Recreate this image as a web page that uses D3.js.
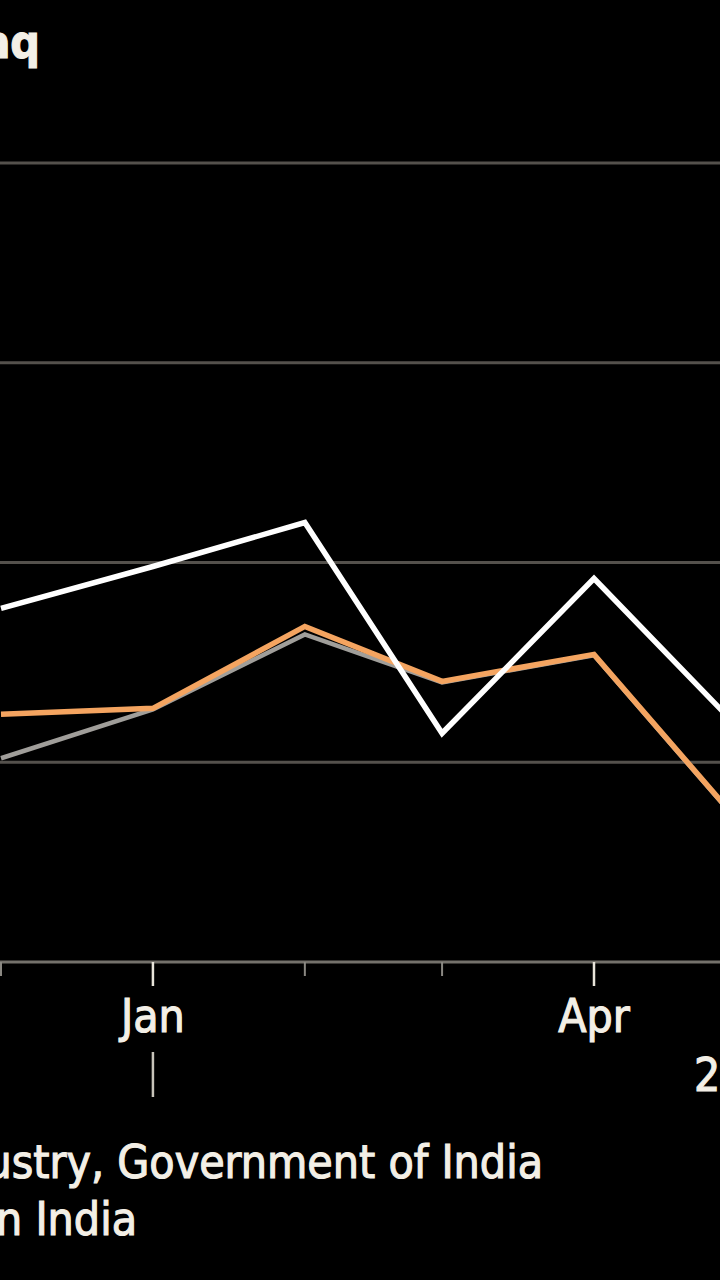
<!DOCTYPE html>
<html><head><meta charset="utf-8">
<script src="https://cdn.jsdelivr.net/npm/d3@7"></script>
<style>
html,body{margin:0;padding:0;background:#000;}
svg{display:block;}
text{font-family:"DejaVu Sans Condensed","Liberation Sans Narrow","DejaVu Sans",sans-serif;fill:#f3efe6;stroke:#f3efe6;stroke-width:1.1px;}
</style></head>
<body>
<script>
// Data (monthly, start of month)
const months = ["2018-12-01","2019-01-01","2019-02-01","2019-03-01","2019-04-01","2019-05-01"];
const whiteSeries  = [1.77, 1.98, 2.20, 1.145, 1.92, 1.16];
const orangeSeries = [1.24, 1.27, 1.68, 1.405, 1.54, 0.69];
const graySeries   = [1.02, 1.265, 1.64, 1.40, 1.535, 0.685];
const gridValues = [1, 2, 3, 4];
const majorTicks = ["2019-01-01","2019-04-01"];
const minorTicks = ["2018-12-01","2019-02-01","2019-03-01"];
const yearLabel = "2019";
const titleText = "Iraq";
const sourceLine1 = "Industry, Government of India";
const sourceLine2 = "in India";

const W = 720, H = 1280;
const parse = d3.timeParse("%Y-%m-%d");
const svg = d3.select("body").append("svg").attr("width", W).attr("height", H);
svg.append("rect").attr("width", W).attr("height", H).attr("fill", "#000");

const x = d3.scaleTime()
  .domain([parse("2018-12-01"), parse("2019-04-01")])
  .range([1, 594]);
const y = d3.scaleLinear().domain([0, 4]).range([962, 163]);

// gridlines
svg.append("g").selectAll("line").data(gridValues).join("line")
  .attr("x1", 0).attr("x2", W)
  .attr("y1", d => y(d)).attr("y2", d => y(d))
  .attr("stroke", "#54514c").attr("stroke-width", 3);

// axis baseline
svg.append("line").attr("x1", 0).attr("x2", W).attr("y1", y(0)).attr("y2", y(0))
  .attr("stroke", "#74716b").attr("stroke-width", 3);

// ticks
svg.append("g").selectAll("line").data(minorTicks.map(parse)).join("line")
  .attr("x1", d => x(d)).attr("x2", d => x(d))
  .attr("y1", y(0)).attr("y2", y(0) + 14)
  .attr("stroke", "#8a8882").attr("stroke-width", 2);
svg.append("g").selectAll("line").data(majorTicks.map(parse)).join("line")
  .attr("x1", d => x(d)).attr("x2", d => x(d))
  .attr("y1", y(0)).attr("y2", y(0) + 24)
  .attr("stroke", "#e8e4da").attr("stroke-width", 2.5);

// tick labels
svg.append("g").selectAll("text").data(majorTicks.map(parse)).join("text")
  .attr("x", d => x(d)).attr("y", 1032)
  .attr("text-anchor", "middle")
  .attr("font-size", 46)
  .text(d3.timeFormat("%b"));

// year separator & label
svg.append("line").attr("x1", x(parse("2019-01-01"))).attr("x2", x(parse("2019-01-01")))
  .attr("y1", 1052).attr("y2", 1097).attr("stroke", "#c8c4ba").attr("stroke-width", 2.5);
svg.append("text").attr("x", 694).attr("y", 1091).attr("font-size", 46).text(yearLabel);

// lines
const line = d3.line().x((d, i) => x(parse(months[i]))).y(d => y(d));
svg.append("path").datum(graySeries).attr("d", line)
  .attr("fill", "none").attr("stroke", "#a09e9a").attr("stroke-width", 4.5).attr("stroke-linejoin", "miter");
svg.append("path").datum(orangeSeries).attr("d", line)
  .attr("fill", "none").attr("stroke", "#f4a460").attr("stroke-width", 5.5).attr("stroke-linejoin", "miter");
svg.append("path").datum(whiteSeries).attr("d", line)
  .attr("fill", "none").attr("stroke", "#ffffff").attr("stroke-width", 5.5).attr("stroke-linejoin", "miter");

// title fragment
svg.append("text").attr("x", 40).attr("y", 58).attr("text-anchor", "end")
  .attr("font-size", 46).attr("font-weight", "bold").text(titleText);

// source lines
svg.append("text").attr("x", 543).attr("y", 1178).attr("text-anchor", "end")
  .attr("font-size", 46).text(sourceLine1);
svg.append("text").attr("x", 137).attr("y", 1235).attr("text-anchor", "end")
  .attr("font-size", 46).text(sourceLine2);
</script>
</body></html>
